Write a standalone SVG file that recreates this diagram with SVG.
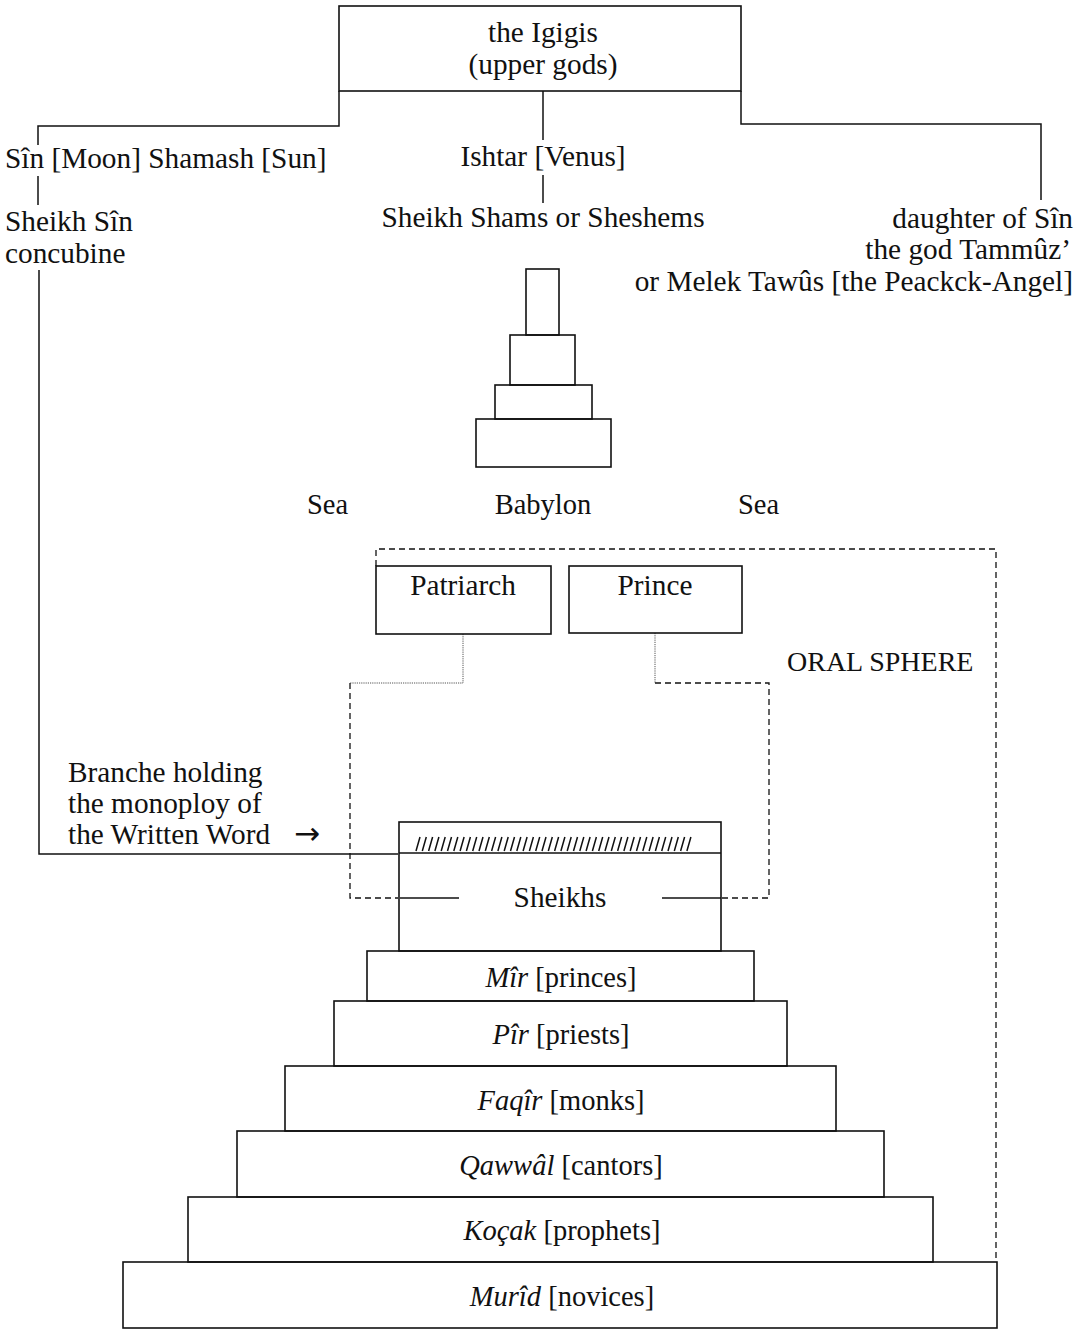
<svg xmlns="http://www.w3.org/2000/svg" width="1088" height="1329" viewBox="0 0 1088 1329">
<style>
text{font-family:"Liberation Serif","Times New Roman",serif;font-size:29.3px;fill:#111}
.p{font-size:28.5px}
.m{text-anchor:middle}
.e{text-anchor:end}
.i{font-style:italic}
.box{fill:none;stroke:#111;stroke-width:1.6}
.ln{fill:none;stroke:#111;stroke-width:1.5}
.dash{fill:none;stroke:#111;stroke-width:1.3;stroke-dasharray:6,4}
.dot{fill:none;stroke:#555;stroke-width:1;stroke-dasharray:1.2,1}
</style>
<rect width="1088" height="1329" fill="#fff"/>
<g id="connectors">
<polyline class="ln" points="339,91 339,126 38,126 38,145"/>
<line class="ln" x1="543" y1="91" x2="543" y2="140"/>
<polyline class="ln" points="741,91 741,124 1041,124 1041,200"/>
<line class="ln" x1="543" y1="175" x2="543" y2="203"/>
<line class="ln" x1="38" y1="176" x2="38" y2="205"/>
<polyline class="ln" points="39,270 39,854 398,854"/>
<polyline class="dot" points="463,634 463,683 350,683"/>
<polyline class="dash" points="350,683 350,898 398,898"/>
<line class="ln" x1="400" y1="898" x2="459" y2="898"/>
<line class="dot" x1="655" y1="633" x2="655" y2="683"/>
<polyline class="dash" points="655,683 769,683 769,898 722,898"/>
<line class="ln" x1="662" y1="898" x2="721" y2="898"/>
</g>
<g id="igigis">
<rect class="box" x="339" y="6" width="402" height="85"/>
<text class="m" x="543" y="42">the Igigis</text>
<text class="m" x="543" y="74">(upper gods)</text>
</g>
<g id="sin-shamash"><text x="5" y="168">Sîn [Moon] Shamash [Sun]</text></g>
<g id="ishtar"><text class="m" x="543" y="166">Ishtar [Venus]</text></g>
<g id="sheikh-sin"><text x="5" y="231">Sheikh Sîn</text><text x="5" y="263">concubine</text></g>
<g id="sheikh-shams"><text class="m" x="543" y="227">Sheikh Shams or Sheshems</text></g>
<g id="daughter">
<text class="e" x="1073" y="228">daughter of Sîn</text>
<text class="e" x="1071" y="259">the god Tammûz’</text>
<text class="e" x="1073" y="291">or Melek Tawûs [the Peackck-Angel]</text>
</g>
<g id="babylon">
<rect class="box" x="526" y="269" width="33" height="66"/>
<rect class="box" x="510" y="335" width="65" height="50"/>
<rect class="box" x="495" y="385" width="97" height="34"/>
<rect class="box" x="476" y="419" width="135" height="48"/>
<text class="m p" x="543" y="514">Babylon</text>
</g>
<g id="sea-left"><text class="p" x="307" y="514">Sea</text></g>
<g id="sea-right"><text class="p" x="738" y="514">Sea</text></g>
<g id="oral-sphere">
<polyline class="dash" points="376,566 376,549 996,549 996,1262"/>
<text x="787" y="671" style="font-size:28px">ORAL SPHERE</text>
</g>
<g id="patriarch">
<rect class="box" x="376" y="566" width="175" height="68"/>
<text class="m" x="463" y="595">Patriarch</text>
</g>
<g id="prince">
<rect class="box" x="569" y="566" width="173" height="67"/>
<text class="m" x="655" y="595">Prince</text>
</g>
<g id="branche">
<text x="68" y="782">Branche holding</text>
<text x="68" y="813">the monoploy of</text>
<text x="68" y="844">the Written Word<tspan x="294" style="font-family:'DejaVu Sans',sans-serif;font-size:31px">→</tspan></text>
</g>
<g id="sheikhs">
<rect class="box" x="399" y="822" width="322" height="129"/>
<line class="ln" x1="399" y1="853" x2="721" y2="853"/>
<path fill="none" stroke="#111" stroke-width="1.5" d="M416,851 l4,-14 m2.3,14 l4,-14 m2.3,14 l4,-14 m2.3,14 l4,-14 m2.3,14 l4,-14 m2.3,14 l4,-14 m2.3,14 l4,-14 m2.3,14 l4,-14 m2.3,14 l4,-14 m2.3,14 l4,-14 m2.3,14 l4,-14 m2.3,14 l4,-14 m2.3,14 l4,-14 m2.3,14 l4,-14 m2.3,14 l4,-14 m2.3,14 l4,-14 m2.3,14 l4,-14 m2.3,14 l4,-14 m2.3,14 l4,-14 m2.3,14 l4,-14 m2.3,14 l4,-14 m2.3,14 l4,-14 m2.3,14 l4,-14 m2.3,14 l4,-14 m2.3,14 l4,-14 m2.3,14 l4,-14 m2.3,14 l4,-14 m2.3,14 l4,-14 m2.3,14 l4,-14 m2.3,14 l4,-14 m2.3,14 l4,-14 m2.3,14 l4,-14 m2.3,14 l4,-14 m2.3,14 l4,-14 m2.3,14 l4,-14 m2.3,14 l4,-14 m2.3,14 l4,-14 m2.3,14 l4,-14 m2.3,14 l4,-14 m2.3,14 l4,-14 m2.3,14 l4,-14 m2.3,14 l4,-14 m2.3,14 l4,-14 m2.3,14 l4,-14"/>
<text class="m" x="560" y="907">Sheikhs</text>
</g>
<g id="mir">
<rect class="box" x="367" y="951" width="387" height="50"/>
<text class="m p" x="561" y="987"><tspan class="i">Mîr</tspan> [princes]</text>
</g>
<g id="pir">
<rect class="box" x="334" y="1001" width="453" height="65"/>
<text class="m p" x="561" y="1044"><tspan class="i">Pîr</tspan> [priests]</text>
</g>
<g id="faqir">
<rect class="box" x="285" y="1066" width="551" height="65"/>
<text class="m p" x="561" y="1110"><tspan class="i">Faqîr</tspan> [monks]</text>
</g>
<g id="qawwal">
<rect class="box" x="237" y="1131" width="647" height="66"/>
<text class="m p" x="561" y="1175"><tspan class="i">Qawwâl</tspan> [cantors]</text>
</g>
<g id="kocak">
<rect class="box" x="188" y="1197" width="745" height="65"/>
<text class="m p" x="562" y="1240"><tspan class="i">Koçak</tspan> [prophets]</text>
</g>
<g id="murid">
<rect class="box" x="123" y="1262" width="874" height="66"/>
<text class="m p" x="562" y="1306"><tspan class="i">Murîd</tspan> [novices]</text>
</g>
</svg>
